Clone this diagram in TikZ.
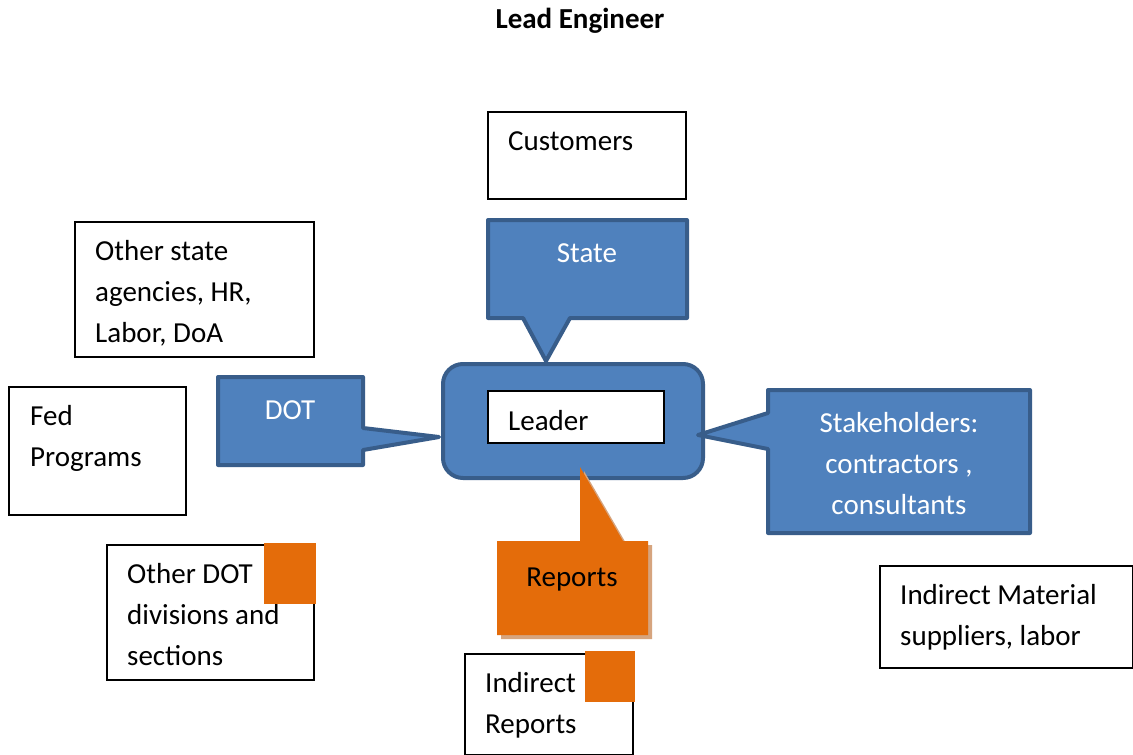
\documentclass[tikz,border=0pt]{standalone}
\usepackage{fontspec}
\setmainfont{Carlito}
\definecolor{calloutblue}{HTML}{4F81BD}
\definecolor{calloutedge}{HTML}{385D8A}
\definecolor{accentorange}{HTML}{E46C0A}
\definecolor{shadowtan}{HTML}{D6A47E}
\begin{document}
\begin{tikzpicture}[x=1pt,y=-1pt,
  txt/.style={inner sep=0pt,font=\fontsize{29}{41}\selectfont},
  multi/.style={txt,align=left,anchor=north west},
  wbox/.style={draw=black,line width=1.1pt,fill=white},
  bluecall/.style={fill=calloutblue,draw=calloutedge,line width=4pt,line join=round},
  orangesq/.style={fill=accentorange}]
\useasboundingbox (0,0) rectangle (1133,755);
\fill[white] (0,0) rectangle (1133,755);

% title
\node[txt,anchor=base,font=\fontsize{29}{41}\selectfont\bfseries] (title) at (580,28) {Lead Engineer};

% plain white boxes
\draw[wbox] (488,112) rectangle (686,199);
\node[txt,anchor=base west] (customers) at (508,150) {Customers};

\draw[wbox] (75,222) rectangle (314,357);
\node[multi] (agencies) at (95,231.3) {\strut Other state\\agencies, HR,\\Labor, DoA};

\draw[wbox] (9,387) rectangle (186,515);
\node[multi] (fed) at (30,396.3) {\strut Fed\\Programs};

\draw[wbox] (107,545) rectangle (314,680);
\node[multi] (otherdot) at (127,554.3) {\strut Other DOT\\divisions and\\sections};
\fill[orangesq] (264,543) rectangle (316,604);

\draw[wbox] (880,566) rectangle (1132.4,668);
\node[multi] (material) at (900,575.3) {\strut Indirect Material\\suppliers, labor};

\draw[wbox] (465,654) rectangle (633,754.4);
\node[multi] (indirect) at (485,663.3) {\strut Indirect\\Reports};
\fill[orangesq] (585,651) rectangle (635,702);

% central leader block
\draw[bluecall,rounded corners=20pt] (443,364) rectangle (703,478);
\draw[wbox] (488,391) rectangle (664,443);
\node[txt,anchor=base west] (leader) at (508,430) {Leader};

% callouts pointing at the leader
\draw[bluecall] (488,220) -- (687,220) -- (687,318) -- (570,318) -- (546,361)
  -- (523,318) -- (488,318) -- cycle;
\node[txt,anchor=base,text=white] (state) at (587,262) {State};

\draw[bluecall] (218,377) -- (363,377) -- (363,428) -- (439,437) -- (363,450)
  -- (363,465) -- (218,465) -- cycle;
\node[txt,anchor=base,text=white] (dot) at (290,419) {DOT};

\draw[bluecall] (768,390) -- (1030,390) -- (1030,533) -- (768,533) -- (768,449)
  -- (698,435) -- (768,413) -- cycle;
\node[txt,align=center,anchor=north,text=white] (stake) at (899,403.3)
  {\strut Stakeholders:\\contractors ,\\consultants};

% reports callout with its drop shadow
\fill[shadowtan] (501,545) -- (584,545) -- (584,471) -- (627,545) -- (652,545)
  -- (652,639) -- (501,639) -- cycle;
\fill[accentorange] (497,541) -- (580,541) -- (580,467) -- (623,541) -- (648,541)
  -- (648,635) -- (497,635) -- cycle;
\node[txt,anchor=base] (reports) at (572,586) {Reports};
\end{tikzpicture}
\end{document}
